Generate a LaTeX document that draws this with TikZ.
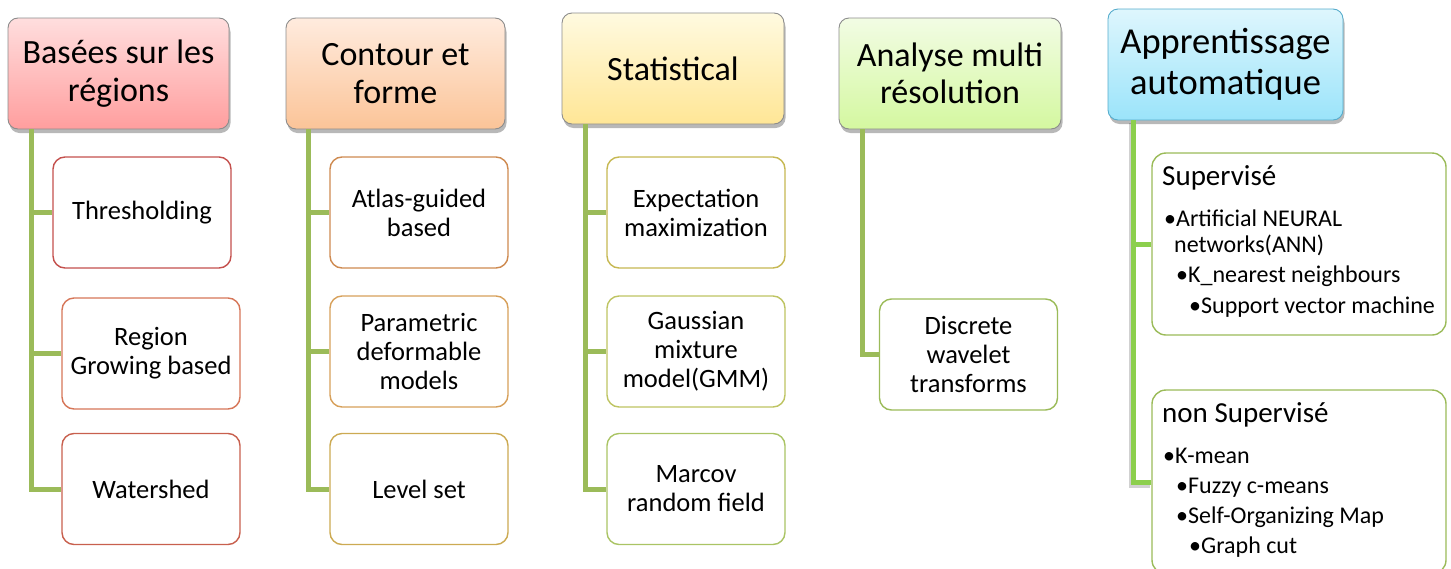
\documentclass[tikz,border=0pt]{standalone}
\usepackage{fontspec}
\setmainfont{Carlito}
\usetikzlibrary{shadows}
\definecolor{lineg}{HTML}{9BBB59}
\definecolor{lineb}{HTML}{8CCF4D}
\definecolor{hborder}{HTML}{8C8C8C}
\begin{document}
\begin{tikzpicture}[x=1pt,y=-1pt,
  hdr/.style={draw=hborder, line width=0.9pt, rounded corners=10pt, align=center,
    inner sep=0pt, minimum height=111pt,
    font=\fontsize{34}{37.5}\selectfont,
    drop shadow={shadow xshift=1.5pt, shadow yshift=-4pt, opacity=0.28, fill=black}},
  kid/.style={draw, line width=1.4pt, rounded corners=12pt, fill=white, align=center,
    inner sep=0pt, minimum width=178pt, minimum height=111pt,
    font=\fontsize{26.5}{29}\selectfont},
  bigbox/.style={draw=lineg, line width=1.4pt, rounded corners=14pt, fill=white,
    inner sep=0pt, minimum width=294pt},
  trunk/.style={draw=lineg, line width=5pt},
  trunkb/.style={draw=lineb, line width=5pt},
  shd/.style={draw=black, opacity=0.18, line width=5pt},
  headtxt/.style={anchor=base west, inner sep=0pt, font=\fontsize{29}{33}\selectfont},
  bultxt/.style={anchor=base west, inner sep=0pt, font=\fontsize{24}{26}\selectfont}]
\useasboundingbox (0,0) rectangle (1451,568);

% header nodes
\node[hdr, minimum width=221pt, top color={rgb,255:red,255;green,222;blue,222}, bottom color={rgb,255:red,255;green,158;blue,158}] (h1) at (118.5,73.5) {Basées sur les\\régions};
\node[hdr, minimum width=219pt, top color={rgb,255:red,255;green,235;blue,222}, bottom color={rgb,255:red,251;green,196;blue,152}] (h2) at (395.5,73.5) {Contour et\\forme};
\node[hdr, minimum width=222pt, top color={rgb,255:red,255;green,250;blue,224}, bottom color={rgb,255:red,255;green,230;blue,150}] (h3) at (673,68.5) {Statistical};
\node[hdr, minimum width=222pt, top color={rgb,255:red,242;green,252;blue,228}, bottom color={rgb,255:red,212;green,248;blue,160}] (h4) at (950,73.5) {Analyse multi\\résolution};
\node[hdr, draw={rgb,255:red,86;green,172;blue,204}, minimum width=235pt, font=\fontsize{36.5}{40.5}\selectfont, top color={rgb,255:red,222;green,246;blue,253}, bottom color={rgb,255:red,155;green,228;blue,250}] (h5) at (1225.5,64.5) {Apprentissage\\automatique};

% trunk coordinates
\coordinate (c1) at (31,0);
\coordinate (c2) at (308,0);
\coordinate (c3) at (585,0);
\coordinate (c4) at (862,0);
\coordinate (c5) at (1133,0);

% child nodes column 1
\node[kid, draw={rgb,255:red,196;green,80;blue,77}] (a1) at (142,212.5) {Thresholding};
\node[kid, draw={rgb,255:red,214;green,118;blue,88}] (a2) at (151,353.5) {Region\\Growing based};
\node[kid, draw={rgb,255:red,200;green,96;blue,78}] (a3) at (151,489) {Watershed};
% column 2
\node[kid, draw={rgb,255:red,206;green,138;blue,80}] (b1) at (419,212.5) {Atlas-guided\\based};
\node[kid, draw={rgb,255:red,215;green,160;blue,90}] (b2) at (419,351.5) {Parametric\\deformable\\models};
\node[kid, draw={rgb,255:red,204;green,170;blue,82}] (b3) at (419,489) {Level set};
% column 3
\node[kid, draw={rgb,255:red,198;green,184;blue,82}] (s1) at (696,212.5) {Expectation\\maximization};
\node[kid, draw={rgb,255:red,190;green,196;blue,98}] (s2) at (696,351.5) {Gaussian\\mixture\\model(GMM)};
\node[kid, draw={rgb,255:red,170;green,196;blue,100}] (s3) at (696,489) {Marcov\\random field};
% column 4
\node[kid, draw=lineg] (d1) at (968.5,354.5) {Discrete\\wavelet\\transforms};

% connectors
\draw[trunk] (h1.south -| c1) |- (a1.west);
\draw[trunk] (h1.south -| c1) |- (a2.west);
\draw[trunk] (h1.south -| c1) |- (a3.west);
\draw[trunk] (h2.south -| c2) |- (b1.west);
\draw[trunk] (h2.south -| c2) |- (b2.west);
\draw[trunk] (h2.south -| c2) |- (b3.west);
\draw[trunk] (h3.south -| c3) |- (s1.west);
\draw[trunk] (h3.south -| c3) |- (s2.west);
\draw[trunk] (h3.south -| c3) |- (s3.west);
\draw[trunk] (h4.south -| c4) |- (d1.west);

% column 5
\node[bigbox, minimum height=182pt] (m1) at (1299,244) {};
\node[bigbox, minimum height=184pt] (m2) at (1299,482) {};
\draw[shd, transform canvas={xshift=-1.5pt,yshift=-3pt}] (h5.south -| c5) |- (m2.west);
\draw[trunkb] (h5.south -| c5) |- (m1.west);
\draw[trunkb] (h5.south -| c5) |- (m2.west);

\node[headtxt] (m1h) at (1162,185) {Supervisé};
\node[bultxt] (m1a) at (1164,226) {•Artificial NEURAL};
\node[bultxt] (m1b) at (1174,252) {networks(ANN)};
\node[bultxt] (m1c) at (1176,282) {•K\_nearest neighbours};
\node[bultxt] (m1d) at (1189,313) {•Support vector machine};

\node[headtxt] (m2h) at (1162,422) {non Supervisé};
\node[bultxt] (m2a) at (1163,463) {•K-mean};
\node[bultxt] (m2b) at (1176,493) {•Fuzzy c-means};
\node[bultxt] (m2c) at (1176,523) {•Self-Organizing Map};
\node[bultxt] (m2d) at (1189,553) {•Graph cut};
\end{tikzpicture}
\end{document}
